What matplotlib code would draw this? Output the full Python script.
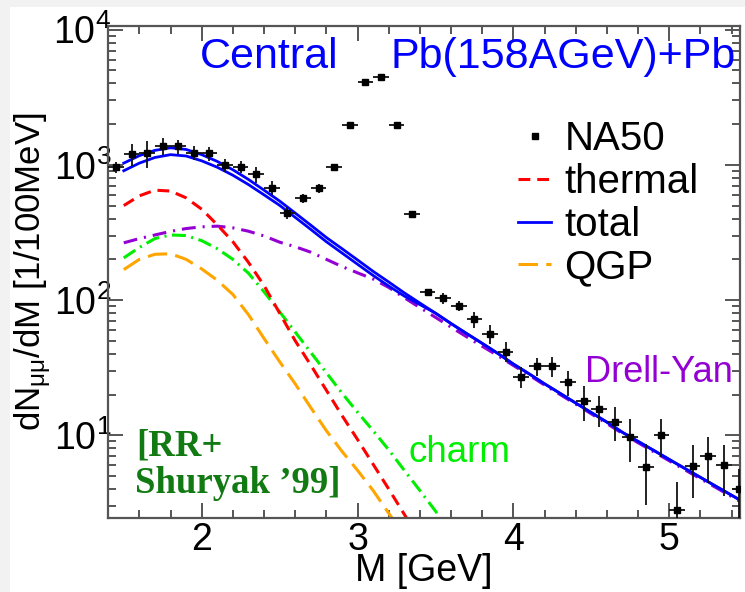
import numpy as np
import matplotlib
matplotlib.use('Agg')
import matplotlib.pyplot as plt
from matplotlib.patches import Rectangle
from matplotlib.ticker import MultipleLocator, LogLocator, NullFormatter

plt.rcParams['font.family'] = ['Liberation Sans', 'DejaVu Sans']
plt.rcParams['mathtext.fontset'] = 'custom'
plt.rcParams['mathtext.rm'] = 'Liberation Sans'
plt.rcParams['mathtext.it'] = 'Liberation Sans:italic'
plt.rcParams['lines.scale_dashes'] = False

# NA50 dimuon spectrum, central Pb+Pb
na50_m = [1.45, 1.55, 1.65, 1.75, 1.85, 1.95, 2.05, 2.15, 2.25, 2.35,
          2.45, 2.55, 2.65, 2.75, 2.85, 2.95, 3.05, 3.15, 3.25, 3.35,
          3.45, 3.55, 3.65, 3.75, 3.85, 3.95, 4.05, 4.15, 4.25, 4.35,
          4.45, 4.55, 4.65, 4.75, 4.85, 4.95, 5.05, 5.15, 5.25, 5.35, 5.45]
na50_y = [961, 1208, 1228, 1375, 1375, 1228, 1215, 995, 968, 849,
          677, 443, 565, 670, 968, 1963, 4085, 4450, 1960, 433,
          114, 103, 90.4, 72, 56.5, 41.6, 27.0, 32.5, 32.5, 24.8,
          17.9, 15.6, 12.6, 9.78, 5.83, 10.05, 2.81, 5.93, 7.03, 6.03, 3.99]
na50_err = [90, 230, 285, 200, 165, 147, 146, 103, 100, 115,
            80, 43, 40, 47, 50, 100, 200, 220, 100, 22,
            7.5, 10, 8, 10, 9, 7, 4.8, 5, 5.5, 5.2,
            5.2, 4, 3.5, 3.4, 2.8, 3.1, 1.7, 2.5, 2.6, 2.5, 1.6]
bin_half = 0.05

# model curves on a 0.1 GeV grid
m_grid = [1.5, 1.6, 1.7, 1.8, 1.9, 2.0, 2.1, 2.2, 2.3, 2.4,
          2.5, 2.6, 2.7, 2.8, 2.9, 3.0, 3.1, 3.2, 3.3, 3.4,
          3.5, 3.6, 3.7, 3.8, 3.9, 4.0, 4.1, 4.2, 4.3, 4.4,
          4.5, 4.6, 4.7, 4.8, 4.9, 5.0, 5.1, 5.2, 5.3, 5.4, 5.5]
total_hi = [1030, 1170, 1280, 1337, 1300, 1190, 1060, 920, 780, 650,
            540, 440, 358, 290, 240, 198, 163, 136, 113, 95,
            80, 67, 56.5, 47.8, 40.3, 33.6, 28.5, 24.0, 20.4, 17.3,
            14.7, 12.5, 10.5, 9.0, 7.73, 6.62, 5.68, 4.88, 4.19, 3.60, 3.09]
total_lo = [905, 1030, 1134, 1190, 1163, 1071, 960, 838, 715, 600,
            502, 409, 333, 270, 223, 184, 152, 127, 107, 92.6,
            80, 67, 56.5, 47.8, 40.3, 33.6, 28.5, 24.0, 20.4, 17.3,
            14.7, 12.5, 10.5, 9.0, 7.73, 6.62, 5.68, 4.88, 4.19, 3.60, 3.09]
drell_yan = [265, 285, 303, 322, 338, 348, 352, 342, 323, 298,
             268, 248, 226, 200, 177, 159, 143, 124, 104, 88,
             74.5, 63, 53.5, 45.5, 38.8, 32.8, 27.9, 23.5, 20.0, 17.0,
             14.4, 12.2, 10.3, 8.8, 7.55, 6.47, 5.55, 4.77, 4.10, 3.52, 3.02]
thermal = [500, 590, 650, 640, 570, 470, 360, 270, 190, 128,
           80, 50, 33, 21.5, 14, 9.3, 6.1, 4.0, 2.6, 1.7]
charm = [205, 245, 285, 303, 300, 275, 240, 200, 158, 115,
         82, 58, 41, 29, 20.5, 14.8, 10.8, 7.8, 5.5, 3.9, 2.75, 1.9]
qgp = [168, 200, 218, 220, 200, 170, 140, 110, 78, 52,
       35, 24, 16, 10.8, 7.6, 5.5, 3.9, 2.65, 1.8]

W, H = 745, 592
fig = plt.figure(figsize=(W / 100, H / 100), dpi=100)
fig.patch.set_facecolor('#f2f2f2')
fig.patches.append(Rectangle((10 / W, 0), 1, 1 - 7 / H, transform=fig.transFigure,
                             facecolor='white', edgecolor='none', zorder=-10))


def px(x, y):
    # pixel position (from top-left) -> figure fraction
    return x / W, 1 - y / H


ax = fig.add_axes([108.5 / W, 1 - 518.3 / H, (740 - 108.5) / W, (518.3 - 25.7) / H])
ax.set_facecolor('none')
ax.set_yscale('log')
ax.set_xlim(1.402, 5.454)
ax.set_ylim(2.43, 1.07e4)

lw = 2.2
l_qgp, = ax.plot(m_grid[:len(qgp)], qgp, color='#ffa500', lw=lw, dashes=(14, 6))
ax.plot(m_grid[:len(charm)], charm, color='#00ee00', lw=lw, dashes=(10, 4, 1.5, 4))
ax.plot(m_grid, drell_yan, color='#9400d3', lw=lw, dashes=(10, 5, 1.5, 5))
l_thermal, = ax.plot(m_grid[:len(thermal)], thermal, color='#ff0000', lw=lw, dashes=(8.5, 5))
l_total, = ax.plot(m_grid, total_hi, color='#0000ff', lw=2.0)
ax.plot(m_grid, total_lo, color='#0000ff', lw=2.0)

eb = ax.errorbar(na50_m, na50_y, yerr=na50_err, xerr=bin_half, fmt='s', ms=3.8,
                 color='black', ecolor='#111111', elinewidth=1.3, capsize=0, zorder=5)

# axes styling: inward ticks on all four sides
for s in ax.spines.values():
    s.set_color('#555555')
    s.set_linewidth(1.6)
ax.xaxis.set_major_locator(MultipleLocator(1))
ax.xaxis.set_minor_locator(MultipleLocator(0.2))
ax.yaxis.set_major_locator(LogLocator(base=10))
ax.yaxis.set_minor_locator(LogLocator(base=10, subs=np.arange(2, 10)))
ax.yaxis.set_minor_formatter(NullFormatter())
ax.tick_params(which='both', direction='in', top=True, right=True, color='#555555',
               width=1.4, labelsize=27, labelcolor='black')
ax.tick_params(which='major', length=11)
ax.tick_params(which='minor', length=6)
ax.tick_params(axis='x', pad=2.5)
ax.tick_params(axis='y', pad=-2)

ax.set_xlabel('M [GeV]', fontsize=27)
ax.xaxis.set_label_coords(0.5, -0.07)
ax.set_ylabel('dN$_{\\mathregular{μμ}}$/dM [1/100MeV]', fontsize=25)
ax.yaxis.set_label_coords(-0.088, 0.5)

leg = ax.legend([eb[0], l_thermal, l_total, l_qgp], ['NA50', 'thermal', 'total', 'QGP'],
                loc='upper left', bbox_to_anchor=px(518, 120), bbox_transform=fig.transFigure,
                frameon=False, fontsize=29, handlelength=0.82, handletextpad=0.33,
                labelspacing=0.12, borderpad=0, borderaxespad=0)

fig.text(*px(200, 68.3), 'Central', color='#0000ff', fontsize=31, va='baseline')
fig.text(*px(391, 68.3), 'Pb(158AGeV)+Pb', color='#0000ff', fontsize=31, va='baseline')
fig.text(*px(585, 381.7), 'Drell-Yan', color='#9400d3', fontsize=26, va='baseline')
fig.text(*px(408, 461.7), 'charm', color='#00ee00', fontsize=26.5, va='baseline')
fig.text(*px(136, 455), '[RR+', color='#127a12', fontsize=26.5, va='baseline',
         family='Liberation Serif', weight='bold')
fig.text(*px(135, 492.7), 'Shuryak \u201999]', color='#127a12', fontsize=26.5, va='baseline',
         family='Liberation Serif', weight='bold')

fig.savefig('out.png', dpi=100, facecolor=fig.get_facecolor())
